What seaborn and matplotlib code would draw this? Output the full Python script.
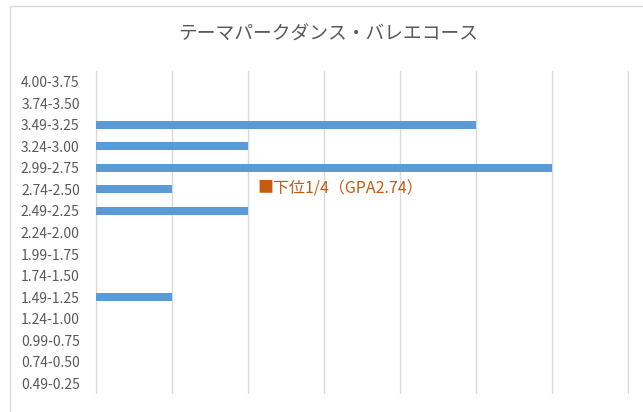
import matplotlib
matplotlib.use("Agg")
import matplotlib.pyplot as plt
import seaborn as sns
import pandas as pd
from matplotlib.patches import Rectangle

# GPA帯と人数
gpa_bands = ["4.00-3.75", "3.74-3.50", "3.49-3.25", "3.24-3.00", "2.99-2.75",
             "2.74-2.50", "2.49-2.25", "2.24-2.00", "1.99-1.75", "1.74-1.50",
             "1.49-1.25", "1.24-1.00", "0.99-0.75", "0.74-0.50", "0.49-0.25"]
counts = [0, 0, 5, 2, 6, 1, 2, 0, 0, 0, 1, 0, 0, 0, 0]
title = "テーマパークダンス・バレエコース"
note = "■下位1/4（GPA2.74）"
note_band = "2.74-2.50"
note_x = 2.12

sns.set_theme(style="white")
plt.rcParams['font.family'] = ['Noto Sans CJK JP', 'DejaVu Sans']

df = pd.DataFrame({"band": gpa_bands, "count": counts})

fig = plt.figure(figsize=(6.43, 4.12), dpi=100)
ax = fig.add_axes([95 / 643, 1 - 394 / 412, (629 - 95) / 643, (394 - 71) / 412])

# 外枠（右と下は画像の外）
fig.patches.append(Rectangle((9.5 / 643, -0.1), 1.0, 1 - 5.5 / 412 + 0.1,
                             transform=fig.transFigure, fill=False,
                             edgecolor="#D9D9D9", linewidth=1))

sns.barplot(data=df, x="count", y="band", orient="h", color="#5B9BD5",
            width=0.37, saturation=1, linewidth=0, ax=ax, zorder=3)

ax.set_xlim(-0.01, 7.01)
ax.set_xticks(range(0, 8))
ax.set_xticklabels([])
ax.set_ylim(len(gpa_bands) - 0.5, -0.5)
ax.grid(axis="x", color="#D9D9D9", linewidth=1)
ax.set_axisbelow(True)
for s in ax.spines.values():
    s.set_visible(False)
ax.set_xlabel("")
ax.set_ylabel("")
ax.tick_params(axis="y", length=0, pad=11, labelsize=10, labelcolor="#595959")
ax.tick_params(axis="x", length=0)

ax.text(note_x, gpa_bands.index(note_band), note, color="#C55A11",
        fontsize=11.5, va="center", ha="left", zorder=4)

fig.text(0.511, 1 - 34 / 412, title, ha="center", va="center",
         fontsize=13.5, color="#595959")

fig.savefig("out.png", dpi=100)
